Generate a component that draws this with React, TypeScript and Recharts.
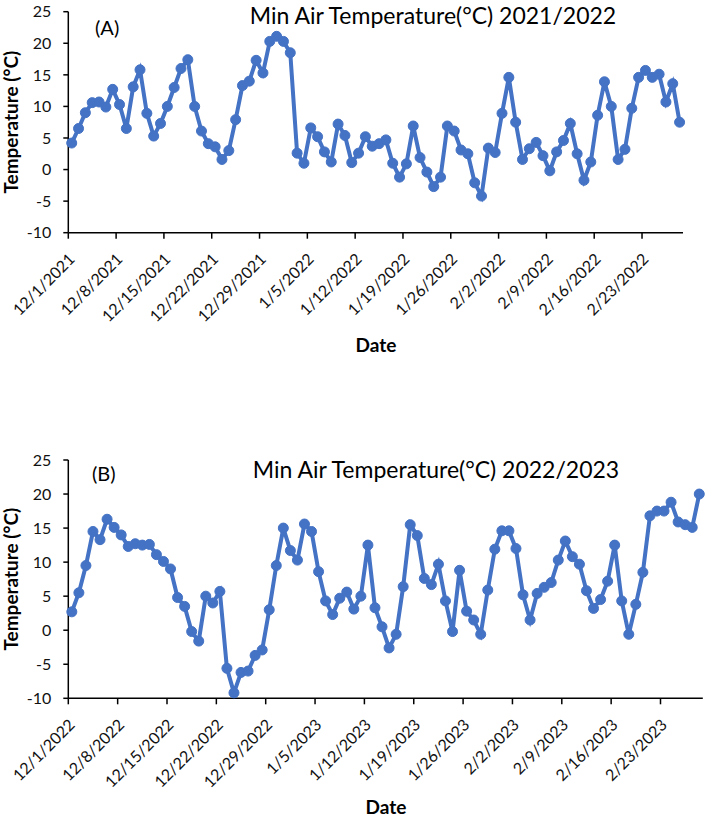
import React from 'react';
import { LineChart, Line, XAxis, YAxis } from 'recharts';

// min air temperature, one value per day, 1 Dec -> 28 Feb
const tempsA = [
  4.2, 6.5, 9.0, 10.6, 10.7, 9.9, 12.7, 10.3, 6.5, 13.1,
  15.8, 8.9, 5.3, 7.3, 10.0, 13.0, 16.0, 17.4, 10.0, 6.1,
  4.1, 3.6, 1.6, 3.0, 7.9, 13.3, 14.0, 17.3, 15.3, 20.3,
  21.1, 20.3, 18.5, 2.6, 1.0, 6.6, 5.2, 2.8, 1.2, 7.2,
  5.4, 1.1, 2.6, 5.2, 3.7, 4.1, 4.7, 1.0, -1.2, 0.9,
  6.9, 1.9, -0.4, -2.7, -1.2, 6.9, 6.1, 3.1, 2.5, -2.1,
  -4.2, 3.4, 2.7, 8.9, 14.6, 7.5, 1.6, 3.3, 4.3, 2.2,
  -0.2, 2.8, 4.6, 7.3, 2.5, -1.7, 1.2, 8.6, 13.9, 10.0,
  1.6, 3.2, 9.7, 14.6, 15.7, 14.6, 15.1, 10.7, 13.6, 7.5,
];

const tempsB = [
  2.7, 5.5, 9.5, 14.5, 13.3, 16.3, 15.1, 14.0, 12.3, 12.7,
  12.5, 12.6, 11.1, 10.1, 9.0, 4.8, 3.5, -0.2, -1.6, 5.0,
  4.0, 5.7, -5.6, -9.2, -6.2, -6.0, -3.7, -2.9, 3.0, 9.5,
  15.0, 11.7, 10.3, 15.6, 14.5, 8.6, 4.3, 2.3, 4.7, 5.6,
  3.1, 5.0, 12.5, 3.3, 0.5, -2.6, -0.6, 6.4, 15.5, 13.9,
  7.6, 6.7, 9.7, 4.3, -0.2, 8.8, 2.8, 1.5, -0.6, 5.9,
  11.9, 14.6, 14.6, 12.0, 5.2, 1.5, 5.4, 6.3, 7.0, 10.3,
  13.1, 10.8, 9.7, 5.8, 3.2, 4.5, 7.2, 12.5, 4.3, -0.6,
  3.8, 8.5, 16.8, 17.5, 17.5, 18.8, 15.9, 15.5, 15.1, 20.0,
];

// one label every 7 days
const weekLabelsA = [
  '12/1/2021', '12/8/2021', '12/15/2021', '12/22/2021', '12/29/2021', '1/5/2022', '1/12/2022',
  '1/19/2022', '1/26/2022', '2/2/2022', '2/9/2022', '2/16/2022', '2/23/2022',
];
const weekLabelsB = [
  '12/1/2022', '12/8/2022', '12/15/2022', '12/22/2022', '12/29/2022', '1/5/2023', '1/12/2023',
  '1/19/2023', '1/26/2023', '2/2/2023', '2/9/2023', '2/16/2023', '2/23/2023',
];

const yTicks = [-10, -5, 0, 5, 10, 15, 20, 25];

const BLUE = '#4472C4';
const FONT = 'Lato, "Open Sans", sans-serif';

// day i sits in the middle of its slot, ticks fall on slot edges (Excel date axis)
const toRows = (vals: number[]) => vals.map((t, i) => ({ day: i + 0.5, t }));

function DateTick(props: any) {
  const { x, y, payload, labels } = props;
  const px = x + 3;
  return (
    <text
      x={px}
      y={y}
      transform={`rotate(-45 ${px} ${y})`}
      textAnchor="end"
      dominantBaseline="central"
      fontSize={16}
      fontFamily={FONT}
      fill="#111"
    >
      {labels[Math.round(payload.value / 7)]}
    </text>
  );
}

interface PanelProps {
  values: number[];
  labels: string[];
  height: number;
  margin: { top: number; right: number; bottom: number; left: number };
  xAxisHeight: number;
}

function Panel({ values, labels, height, margin, xAxisHeight }: PanelProps) {
  const rows = toRows(values);
  const ticks = labels.map((_, k) => k * 7);
  return (
    <LineChart width={705} height={height} data={rows} margin={margin}>
      <XAxis
        type="number"
        dataKey="day"
        domain={[0, values.length]}
        ticks={ticks}
        interval={0}
        height={xAxisHeight}
        tickSize={6}
        tickMargin={17}
        axisLine={{ stroke: '#000', strokeWidth: 1.5 }}
        tickLine={{ stroke: '#000', strokeWidth: 1.5 }}
        tick={(p: any) => <DateTick {...p} labels={labels} />}
      />
      <YAxis
        domain={[-10, 25]}
        ticks={yTicks}
        interval={0}
        width={68.3}
        tickSize={5}
        tickMargin={12}
        axisLine={{ stroke: '#000', strokeWidth: 1.5 }}
        tickLine={{ stroke: '#000', strokeWidth: 1.5 }}
        tick={{ fontSize: 16, fontFamily: FONT, fill: '#111' }}
        label={{
          value: 'Temperature (°C)',
          angle: -90,
          position: 'insideLeft',
          offset: 11,
          style: { textAnchor: 'middle', fontSize: 19, fontWeight: 700, fontFamily: FONT, fill: '#000' },
        }}
      />
      <Line
        type="linear"
        dataKey="t"
        stroke={BLUE}
        strokeWidth={4}
        dot={{ r: 5, fill: BLUE, stroke: BLUE, strokeWidth: 1 }}
        isAnimationActive={false}
      />
    </LineChart>
  );
}

export default function App() {
  return (
    <div style={{ position: 'absolute', left: 0, top: 0, width: 705, height: 817, background: '#fff' }}>
      <div style={{ position: 'absolute', left: 0, top: 0 }}>
        <Panel
          values={tempsA}
          labels={weekLabelsA}
          height={340}
          margin={{ top: 11.7, right: 22, bottom: 0, left: 0 }}
          xAxisHeight={107.3}
        />
      </div>
      <div style={{ position: 'absolute', left: 0, top: 410 }}>
        <Panel
          values={tempsB}
          labels={weekLabelsB}
          height={400}
          margin={{ top: 50, right: 2.2, bottom: 0, left: 0 }}
          xAxisHeight={111.7}
        />
      </div>
      <svg
        width={705}
        height={817}
        style={{ position: 'absolute', left: 0, top: 0, pointerEvents: 'none' }}
        fontFamily={FONT}
      >
        <text x={433} y={24} textAnchor="middle" fontSize={23} fill="#000">
          Min Air Temperature(°C) 2021/2022
        </text>
        <text x={95} y={35} fontSize={20} fill="#000">(A)</text>
        <text x={376} y={352} textAnchor="middle" fontSize={19} fontWeight={700} fill="#000">Date</text>

        <text x={436} y={478} textAnchor="middle" fontSize={23} fill="#000">
          Min Air Temperature(°C) 2022/2023
        </text>
        <text x={92} y={481} fontSize={20} fill="#000">(B)</text>
        <text x={386} y={814} textAnchor="middle" fontSize={19} fontWeight={700} fill="#000">Date</text>
      </svg>
    </div>
  );
}
